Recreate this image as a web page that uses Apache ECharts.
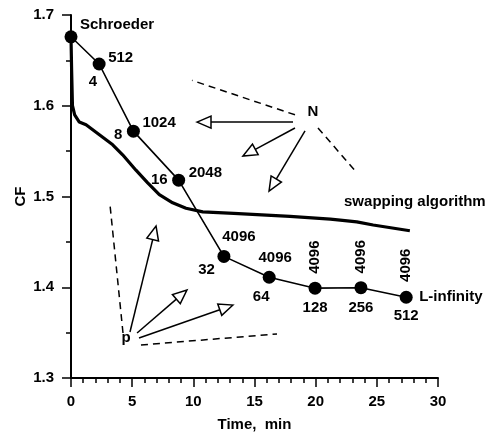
<!DOCTYPE html>
<html>
<head>
<meta charset="utf-8">
<script src="https://cdn.jsdelivr.net/npm/echarts@6/dist/echarts.min.js"></script>
<style>html,body{margin:0;padding:0;background:#fff}#c{width:488px;height:434px}</style>
</head>
<body>
<div id="c"></div>
<script>
// L-infinity series (time in min, CF)
const linfTime = [0, 2.3, 5.1, 8.8, 12.5, 16.2, 19.95, 23.7, 27.4];
const linfCF = [1.676, 1.646, 1.572, 1.518, 1.434, 1.411, 1.399, 1.3995, 1.389];
const pLabels = ['', '4', '8', '16', '32', '64', '128', '256', '512'];
const nLabels = ['Schroeder', '512', '1024', '2048', '4096', '4096', '4096', '4096', '4096'];
// swapping algorithm curve
const swapTime = [0, 0.05, 0.12, 0.3, 0.68, 1.23, 2.32, 3.41, 4.22, 5.31, 6.27, 7.22, 8.31, 9.4, 10.77, 13.3, 17.9, 21.2, 22, 23.36, 24.7, 27.7];
const swapCF = [1.676, 1.64, 1.6, 1.59, 1.582, 1.579, 1.568, 1.557, 1.546, 1.529, 1.515, 1.502, 1.493, 1.487, 1.483, 1.4815, 1.478, 1.475, 1.474, 1.472, 1.4686, 1.4623];
// annotations in data units: [x1, y1, x2, y2, kind] kind 0 = arrow, 1 = dashed
const annotations = [
  [18.15, 1.582, 10.3, 1.582, 0],
  [18.31, 1.5755, 14.06, 1.5446, 0],
  [19.13, 1.5722, 16.19, 1.506, 0],
  [18.31, 1.590, 9.89, 1.628, 1],
  [20.19, 1.5755, 23.38, 1.526, 1],
  [4.82, 1.3507, 6.95, 1.4675, 0],
  [5.4, 1.3496, 9.48, 1.397, 0],
  [5.56, 1.344, 13.24, 1.3804, 0],
  [4.25, 1.3496, 3.19, 1.4906, 1],
  [5.72, 1.3364, 16.84, 1.3485, 1]
];
const annText = ['N', 'p'];
const annTextX = [19.78, 4.5];
const annTextY = [1.593, 1.344];

const FONT = '"Liberation Sans", Arial, Helvetica, sans-serif';
const txt = {color: '#000', fontFamily: FONT, fontSize: 15, fontWeight: 'bold', textBorderWidth: 0, textBorderColor: 'transparent', opacity: 1};

// label layout per point (pixel offsets)
const nLab = [
  {align: 'left', offset: [9, -12]},
  {align: 'left', offset: [9, -6]},
  {align: 'left', offset: [9, -8]},
  {align: 'left', offset: [10, -7]},
  {align: 'center', offset: [15, -20]},
  {align: 'center', offset: [6, -19]},
  {align: 'center', offset: [31, 0], rotate: 90},
  {align: 'center', offset: [31, 0], rotate: 90},
  {align: 'center', offset: [32, 0], rotate: 90}
];
const pLab = [
  null,
  {align: 'right', offset: [-2, 18]},
  {align: 'right', offset: [-11, 4]},
  {align: 'right', offset: [-11, 0]},
  {align: 'right', offset: [-9, 13]},
  {align: 'center', offset: [-8, 20]},
  {align: 'center', offset: [0, 20]},
  {align: 'center', offset: [0, 20]},
  {align: 'center', offset: [0, 19]}
];

function mkLabel(text, cfg) {
  return Object.assign({show: true, position: 'inside', verticalAlign: 'middle', formatter: text}, txt, cfg);
}

const linfData = linfTime.map((t, i) => ({value: [t, linfCF[i]], label: mkLabel(nLabels[i], nLab[i])}));
const pData = linfTime.map((t, i) => ({value: [t, linfCF[i]], label: pLab[i] ? mkLabel(pLabels[i], pLab[i]) : {show: false}}));
const swapData = swapTime.map((t, i) => [t, swapCF[i]]);
const textData = annText.map((s, i) => ({value: [annTextX[i], annTextY[i]], label: mkLabel(s, {align: 'center'})}));

function renderAnn(params, api) {
  const p1 = api.coord([api.value(0), api.value(1)]);
  const p2 = api.coord([api.value(2), api.value(3)]);
  const kind = api.value(4);
  if (kind === 1) {
    return {type: 'line', shape: {x1: p1[0], y1: p1[1], x2: p2[0], y2: p2[1]},
      style: {stroke: '#000', lineWidth: 1.5, lineDash: [7, 5], fill: null}};
  }
  const dx = p2[0] - p1[0], dy = p2[1] - p1[1];
  const L = Math.hypot(dx, dy), ux = dx / L, uy = dy / L;
  const hl = 14, hw = 6;
  const bx = p2[0] - ux * hl, by = p2[1] - uy * hl;
  return {type: 'group', children: [
    {type: 'line', shape: {x1: p1[0], y1: p1[1], x2: bx, y2: by}, style: {stroke: '#000', lineWidth: 1.5}},
    {type: 'polygon', shape: {points: [[p2[0], p2[1]], [bx - uy * hw, by + ux * hw], [bx + uy * hw, by - ux * hw]]},
      style: {fill: '#fff', stroke: '#000', lineWidth: 1.5}}
  ]};
}

const chart = echarts.init(document.getElementById('c'), null, {renderer: 'canvas'});
chart.setOption({
  animation: false,
  backgroundColor: '#fff',
  grid: {left: 71, right: 50, top: 15, bottom: 56, containLabel: false, outerBoundsMode: 'none'},
  xAxis: {
    type: 'value', min: 0, max: 30, interval: 5,
    name: 'Time,  min', nameLocation: 'middle', nameGap: 39, nameMoveOverlap: false,
    nameTextStyle: txt,
    axisLine: {show: true, onZero: false, lineStyle: {color: '#000', width: 2}},
    axisTick: {show: true, inside: false, length: 9, lineStyle: {color: '#000', width: 1.5}},
    minorTick: {show: true, splitNumber: 5, length: 5, lineStyle: {color: '#000', width: 1.5}},
    axisLabel: Object.assign({margin: 16}, txt),
    splitLine: {show: false}
  },
  yAxis: {
    type: 'value', min: 1.3, max: 1.7, interval: 0.1,
    name: 'CF', nameLocation: 'middle', nameGap: 43, nameRotate: 90, nameMoveOverlap: false,
    nameTextStyle: txt,
    axisLine: {show: true, onZero: false, lineStyle: {color: '#000', width: 2}},
    axisTick: {show: true, inside: false, length: 9, lineStyle: {color: '#000', width: 1.5}},
    minorTick: {show: true, splitNumber: 2, length: 5, lineStyle: {color: '#000', width: 1.5}},
    axisLabel: Object.assign({margin: 17, formatter: v => v.toFixed(1)}, txt),
    splitLine: {show: false}
  },
  series: [
    {
      type: 'line', name: 'swapping algorithm', data: swapData, showSymbol: false, symbol: 'none',
      lineStyle: {color: '#000', width: 3.2}, z: 3,
      endLabel: Object.assign({show: true, formatter: '{a}', align: 'center', verticalAlign: 'middle', offset: [-3, -29]}, txt)
    },
    {
      type: 'line', name: 'L-infinity', data: linfData, symbol: 'circle', symbolSize: 13,
      itemStyle: {color: '#000'}, lineStyle: {color: '#000', width: 1.6}, z: 4,
      endLabel: Object.assign({show: true, formatter: '{a}', distance: 13, verticalAlign: 'middle'}, txt)
    },
    {
      type: 'scatter', data: pData, symbolSize: 0, itemStyle: {color: '#000', opacity: 1}, z: 5, silent: true
    },
    {
      type: 'scatter', data: textData, symbolSize: 0, itemStyle: {color: '#000', opacity: 1}, z: 5, silent: true
    },
    {
      type: 'custom', data: annotations, renderItem: renderAnn, z: 2, silent: true,
      encode: {x: [0, 2], y: [1, 3]}
    }
  ]
});
</script>
</body>
</html>
